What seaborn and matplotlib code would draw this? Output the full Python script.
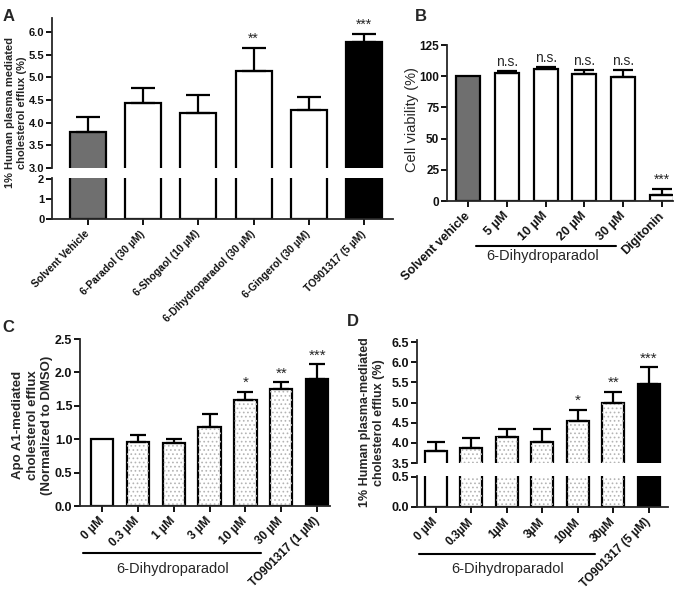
import matplotlib.pyplot as plt
import pandas as pd
import seaborn as sns
from matplotlib.patches import Rectangle

# Panel A - plasma mediated efflux, screening of compounds
a_labels = ["Solvent Vehicle", "6-Paradol (30 µM)", "6-Shogaol (10 µM)",
            "6-Dihydroparadol (30 µM)", "6-Gingerol (30 µM)", "TO901317 (5 µM)"]
a_means = [3.80, 4.44, 4.22, 5.15, 4.28, 5.77]
a_errs = [0.33, 0.32, 0.40, 0.50, 0.29, 0.18]
a_stars = ["", "", "", "**", "", "***"]
a_fills = ["gray", "white", "white", "white", "white", "black"]

# Panel B - cell viability
b_labels = ["Solvent vehicle", "5 µM", "10 µM", "20 µM", "30 µM", "Digitonin"]
b_means = [100, 102.5, 106, 102, 99.5, 5]
b_errs = [0, 1.5, 1.5, 3, 5.5, 5]
b_marks = ["", "n.s.", "n.s.", "n.s.", "n.s.", "***"]
b_fills = ["gray", "white", "white", "white", "white", "white"]

# Panel C - ApoA1 mediated efflux
c_labels = ["0 µM", "0.3 µM", "1 µM", "3 µM", "10 µM", "30 µM", "TO901317 (1 µM)"]
c_means = [1.00, 0.96, 0.94, 1.19, 1.59, 1.75, 1.90]
c_errs = [0, 0.11, 0.06, 0.19, 0.12, 0.10, 0.22]
c_stars = ["", "", "", "", "*", "**", "***"]
c_fills = ["white", "dots", "dots", "dots", "dots", "dots", "black"]

# Panel D - plasma mediated efflux, dose response
d_labels = ["0 µM", "0.3µM", "1µM", "3µM", "10µM", "30µM", "TO901317 (5 µM)"]
d_means = [3.80, 3.87, 4.14, 4.01, 4.53, 4.99, 5.47]
d_errs = [0.21, 0.24, 0.20, 0.34, 0.28, 0.28, 0.40]
d_stars = ["", "", "", "", "*", "**", "***"]
d_fills = ["white", "dots", "dots", "dots", "dots", "dots", "black"]

FILL = {"gray": "#6f6f6f", "white": "white", "black": "black", "dots": "white"}
LW = 1.6

sns.set_theme(style="ticks")
plt.rcParams["font.family"] = ["Liberation Sans", "DejaVu Sans"]
plt.rcParams["hatch.linewidth"] = 0.7


def draw_bars(ax, labels, means, errs, fills, width, cap, marks=None,
              mark_size=10):
    df = pd.DataFrame({"label": labels, "value": means})
    colors = {l: FILL[f] for l, f in zip(labels, fills)}
    sns.barplot(data=df, x="label", y="value", hue="label", palette=colors,
                legend=False, width=width, saturation=1, edgecolor="black",
                linewidth=LW, errorbar=None, ax=ax)
    # light stipple for the dotted bars
    for patch, f in zip(ax.patches, fills):
        if f == "dots":
            ax.add_patch(Rectangle(patch.get_xy(), patch.get_width(),
                                   patch.get_height(), facecolor="none",
                                   edgecolor="#b4b4b4", hatch="....",
                                   linewidth=0, zorder=patch.get_zorder()))
    if errs is not None:
        xs = [i for i, e in enumerate(errs) if e > 0]
        ax.errorbar(xs, [means[i] for i in xs],
                    yerr=[[0] * len(xs), [errs[i] for i in xs]],
                    fmt="none", ecolor="black", elinewidth=LW,
                    capsize=cap, capthick=LW, zorder=3)
    if marks is not None:
        for i, m in enumerate(marks):
            if m:
                ax.annotate(m, (i, means[i] + errs[i]), xytext=(0, 1.5),
                            textcoords="offset points", ha="center",
                            va="bottom", fontsize=mark_size)
    ax.set_xlabel("")
    ax.set_ylabel("")


def style_axis(ax, ysize=8, xsize=8, xlabels=True):
    for s in ["top", "right"]:
        ax.spines[s].set_visible(False)
    for s in ["left", "bottom"]:
        ax.spines[s].set_linewidth(1.3)
    ax.tick_params(axis="both", direction="out", length=4, width=1.3,
                   color="black", labelcolor="#111111", pad=1.5)
    for t in ax.get_yticklabels():
        t.set_fontweight("bold")
        t.set_fontsize(ysize)
    if xlabels:
        ax.tick_params(axis="x", pad=5.5)
        for t in ax.get_xticklabels():
            t.set_fontweight("bold")
            t.set_fontsize(xsize)
            t.set_rotation(45)
            t.set_ha("right")
            t.set_va("center")
            t.set_rotation_mode("anchor")


def bracket(ax, x0, x1, y, tx, ty, text):
    tr = ax.get_xaxis_transform()
    ax.plot([x0, x1], [y, y], color="black", lw=1.5, transform=tr,
            clip_on=False)
    ax.text(tx, ty, text, transform=tr, ha="center", va="center",
            fontsize=10.5)


fig = plt.figure(figsize=(6.82, 5.94), dpi=100)

# ---- Panel A (broken axis) ----
axA_top = fig.add_axes([0.0762, 0.7172, 0.5, 0.2525])
axA_bot = fig.add_axes([0.0762, 0.6313, 0.5, 0.069])
draw_bars(axA_top, a_labels, a_means, a_errs, a_fills, 0.65, 8.5, a_stars)
draw_bars(axA_bot, a_labels, a_means, None, a_fills, 0.65, 8.5)
axA_top.set_ylim(3.0, 6.31)
axA_top.set_yticks([3.0, 3.5, 4.0, 4.5, 5.0, 5.5, 6.0])
axA_top.set_yticklabels(["3.0", "3.5", "4.0", "4.5", "5.0", "5.5", "6.0"])
axA_bot.set_ylim(0, 2.05)
axA_bot.set_yticks([0, 1, 2])
for ax in (axA_top, axA_bot):
    ax.set_xlim(-0.652, 5.525)
style_axis(axA_top, ysize=8)
style_axis(axA_bot, ysize=8, xsize=7.5)
axA_top.spines["bottom"].set_visible(False)
axA_top.tick_params(axis="x", bottom=False, labelbottom=False)
axA_top.set_ylabel("1% Human plasma mediated\ncholesterol efflux (%)",
                   fontsize=8, fontweight="bold", linespacing=1.25)
axA_top.yaxis.set_label_coords(-0.072, 0.367)

# ---- Panel B ----
axB = fig.add_axes([0.6554, 0.6616, 0.3314, 0.2626])
draw_bars(axB, b_labels, b_means, b_errs, b_fills, 0.62, 7, b_marks)
axB.set_ylim(0, 125)
axB.set_yticks([0, 25, 50, 75, 100, 125])
axB.set_xlim(-0.54, 5.28)
style_axis(axB, ysize=8.5, xsize=9)
axB.set_ylabel("Cell viability (%)", fontsize=10.5)
axB.yaxis.set_label_coords(-0.124, 0.52)
bracket(axB, 0.2, 3.8, -0.288, 1.93, -0.35, "6-Dihydroparadol")

# ---- Panel C ----
axC = fig.add_axes([0.1173, 0.1481, 0.3666, 0.2811])
draw_bars(axC, c_labels, c_means, c_errs, c_fills, 0.62, 6, c_stars,
          mark_size=11)
axC.set_ylim(0, 2.5)
axC.set_yticks([0.0, 0.5, 1.0, 1.5, 2.0, 2.5])
axC.set_yticklabels(["0.0", "0.5", "1.0", "1.5", "2.0", "2.5"])
axC.set_xlim(-0.614, 6.36)
style_axis(axC, ysize=9, xsize=8.5)
axC.set_ylabel("Apo A1-mediated\ncholesterol efflux\n(Normalized to DMSO)",
               fontsize=9.5, fontweight="bold", linespacing=1.25)
axC.yaxis.set_label_coords(-0.108, 0.485)
bracket(axC, -0.53, 4.44, -0.281, 1.97, -0.38, "6-Dihydroparadol")

# ---- Panel D (broken axis) ----
axD_top = fig.add_axes([0.6114, 0.2205, 0.368, 0.2071])
axD_bot = fig.add_axes([0.6114, 0.1465, 0.368, 0.0522])
draw_bars(axD_top, d_labels, d_means, d_errs, d_fills, 0.62, 6.8, d_stars,
          mark_size=11)
draw_bars(axD_bot, d_labels, d_means, None, d_fills, 0.62, 6.8)
axD_top.set_ylim(3.5, 6.55)
axD_top.set_yticks([3.5, 4.0, 4.5, 5.0, 5.5, 6.0, 6.5])
axD_top.set_yticklabels(["3.5", "4.0", "4.5", "5.0", "5.5", "6.0", "6.5"])
axD_bot.set_ylim(0, 0.517)
axD_bot.set_yticks([0.0, 0.5])
axD_bot.set_yticklabels(["0.0", "0.5"])
for ax in (axD_top, axD_bot):
    ax.set_xlim(-0.535, 6.535)
style_axis(axD_top, ysize=9)
style_axis(axD_bot, ysize=9, xsize=8.5)
axD_top.spines["bottom"].set_visible(False)
axD_top.tick_params(axis="x", bottom=False, labelbottom=False)
axD_top.set_ylabel("1% Human plasma-mediated\ncholesterol efflux (%)",
                   fontsize=9, fontweight="bold", linespacing=1.2)
axD_top.yaxis.set_label_coords(-0.127, 0.33)
bracket(axD_bot, -0.48, 4.48, -1.516, 2.01, -2.0, "6-Dihydroparadol")

# panel letters
for x, y, s in [(0.004, 0.985, "A"), (0.608, 0.985, "B"),
                (0.004, 0.462, "C"), (0.508, 0.472, "D")]:
    fig.text(x, y, s, fontsize=12, fontweight="bold", va="top", ha="left")

fig.savefig("out.png", dpi=100)
